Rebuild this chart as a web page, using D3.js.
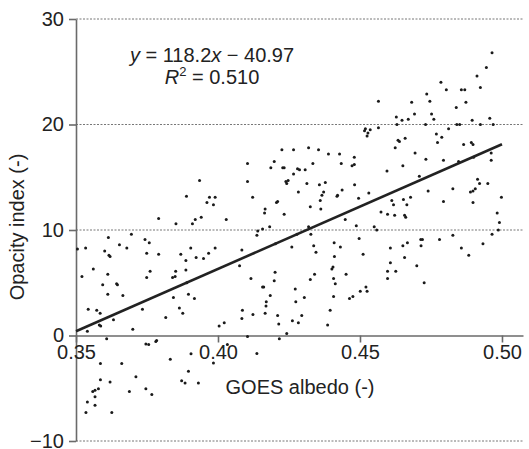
<!DOCTYPE html>
<html>
<head>
  <meta charset="utf-8">
  <script src="https://cdn.jsdelivr.net/npm/d3@7"></script>
  <style>
    body { margin: 0; background: #fff; }
    svg { font-family: "Liberation Sans", Arial, Helvetica, sans-serif; }
  </style>
</head>
<body>
<script>
  const width = 529;
  const height = 449;

  // GOES albedo (x) and opacity index (y)
  const albedo = [
    0.3505, 0.3534, 0.3521, 0.3561, 0.3543, 0.3540, 0.3573, 0.3585, 0.3587, 0.3582,
    0.3594, 0.3601, 0.3614, 0.3616, 0.3620, 0.3612, 0.3612, 0.3632, 0.3643, 0.3646,
    0.3653, 0.3665, 0.3679, 0.3695, 0.3700, 0.3734, 0.3743, 0.3749, 0.3758, 0.3749,
    0.3761, 0.3791, 0.3791, 0.3816, 0.3843,
    0.3608, 0.3746, 0.3756, 0.3784, 0.3781, 0.3586, 0.3661, 0.3832, 0.3905, 0.3896,
    0.3872, 0.3884, 0.3931, 0.3711, 0.3586, 0.3620, 0.3579, 0.3559, 0.3567, 0.3688,
    0.3746, 0.3767, 0.3567, 0.3540, 0.3567, 0.3535, 0.3626, 0.3984, 0.4033,
    0.3840, 0.3849, 0.3852, 0.3851, 0.3864, 0.3869, 0.3876, 0.3889, 0.3887, 0.3887,
    0.3890, 0.3896, 0.3904, 0.3910, 0.3920, 0.3917, 0.3923, 0.3935, 0.3941, 0.3949,
    0.3961, 0.3967, 0.3970, 0.3984, 0.3990, 0.3990, 0.4004, 0.4022, 0.4029,
    0.4076, 0.4084, 0.4086, 0.4084, 0.4104, 0.4104, 0.4104, 0.4116, 0.4122, 0.4123,
    0.4137, 0.4137, 0.4140, 0.4157, 0.4157, 0.4161, 0.4164, 0.4166, 0.4166, 0.4169,
    0.4170, 0.4182, 0.4184, 0.4186, 0.4198, 0.4198, 0.4201, 0.4202, 0.4206, 0.4210,
    0.4210, 0.4214, 0.4216, 0.4225, 0.4228, 0.4233, 0.4233, 0.4239, 0.4242, 0.4242,
    0.4247, 0.4260, 0.4262, 0.4266, 0.4266, 0.4272, 0.4274, 0.4278, 0.4280, 0.4283,
    0.4283, 0.4287,
    0.4295, 0.4304, 0.4307, 0.4313, 0.4319, 0.4319, 0.4325, 0.4327, 0.4325, 0.4334,
    0.4337, 0.4340, 0.4345, 0.4354, 0.4357, 0.4360, 0.4362, 0.4366, 0.4372, 0.4378,
    0.4386, 0.4389, 0.4395, 0.4401, 0.4405, 0.4407, 0.4409, 0.4410, 0.4413, 0.4407,
    0.4419, 0.4421, 0.4428, 0.4431, 0.4434, 0.4437, 0.4448, 0.4451, 0.4463, 0.4475,
    0.4472, 0.4480, 0.4480, 0.4481, 0.4487, 0.4495, 0.4497, 0.4501, 0.4511, 0.4516,
    0.4519, 0.4521, 0.4525, 0.4525,
    0.4528, 0.4536, 0.4531, 0.4550, 0.4559, 0.4565, 0.4565, 0.4574, 0.4595, 0.4597,
    0.4597, 0.4597, 0.4607, 0.4607, 0.4612, 0.4618, 0.4622, 0.4624, 0.4626, 0.4628,
    0.4630, 0.4634, 0.4639, 0.4648, 0.4651, 0.4651, 0.4653, 0.4657, 0.4657, 0.4659,
    0.4661, 0.4665, 0.4667, 0.4670, 0.4678, 0.4682, 0.4692, 0.4694, 0.4700, 0.4709,
    0.4714, 0.4715, 0.4720, 0.4726, 0.4731, 0.4735, 0.4732, 0.4740, 0.4746, 0.4752,
    0.4760,
    0.4769, 0.4773, 0.4780, 0.4785, 0.4788, 0.4794, 0.4794, 0.4804, 0.4812, 0.4827,
    0.4827, 0.4839, 0.4841, 0.4847, 0.4851, 0.4857, 0.4857, 0.4865, 0.4869, 0.4873,
    0.4883, 0.4889, 0.4892, 0.4895, 0.4898, 0.4898, 0.4898, 0.4900, 0.4906, 0.4912,
    0.4914, 0.4921, 0.4924, 0.4924, 0.4933, 0.4945, 0.4950, 0.4957, 0.4962, 0.4962,
    0.4965, 0.4965, 0.4969, 0.4983, 0.4987, 0.4991, 0.4998
  ];
  const opacity = [
    8.2, 8.3, 5.6, 6.3, 2.5, 0.4, 2.4, 2.1, 0.9, 1.0,
    4.8, 8.0, 9.3, 7.6, 7.5, 5.8, 3.9, 1.5, 4.9, 4.8,
    8.6, 3.8, 8.3, 9.6, 0.6, 2.5, 9.1, 7.8, 8.8, 5.5,
    6.1, 11.1, 7.7, 1.7, 3.6,
    -0.3, -0.8, -0.85, -0.47, -0.57, -2.65, -2.65, -2.24, -1.74, -3.4,
    -4.3, -4.5, -4.5, -3.9, -4.2, -4.4, -5.05, -5.3, -5.2, -5.3,
    -5.05, -5.6, -5.8, -6.3, -6.6, -7.3, -7.3, -2.6, -0.85,
    5.5, 5.6, 10.6, 6.1, 2.6, 7.7, 2.1, 13.2, 7.1, 6.2,
    5.0, 3.9, 8.3, 10.6, 11.0, 3.5, 7.4, 14.7, 11.2, 7.3,
    12.6, 7.8, 13.1, 12.4, 13.1, 8.3, 0.9, 1.2, 11.0,
    6.6, 8.1, 2.4, 1.6, 16.3, 14.6, -0.1, 5.4, 13.1, 2.0,
    -1.7, 9.5, 9.9, 10.1, 4.6, 4.6, 11.6, 12.0, 2.1, 2.8,
    3.2, 10.3, 3.8, 15.9, 16.5, 5.2, 6.0, 8.7, 12.6, 12.7,
    1.9, 1.1, -0.3, 17.6, 15.9, 15.9, 11.5, 14.6, 14.4, 0.2,
    14.7, 8.4, 1.4, 17.6, 15.3, 4.4, 3.2, 9.6, 15.8, 13.6,
    1.2, 15.7,
    1.9, 3.6, 15.7, 14.4, 17.8, 10.3, 12.2, 9.6, 5.3, 16.3,
    8.5, 5.8, 7.9, 17.6, 14.3, 12.8, 12.0, 13.3, 13.6, 14.5,
    1.0, 17.2, 2.4, 6.3, 6.5, 5.4, 8.8, 7.5, 4.9, 3.7,
    13.2, 13.3, 17.2, 8.4, 16.3, 13.8, 11.0, 5.8, 3.5, 3.7,
    16.1, 16.2, 16.9, 14.3, 10.4, 13.0, 9.2, 4.2, 7.7, 19.4,
    19.6, 4.6, 4.2, 18.9,
    19.2, 19.5, 13.5, 10.3, 10.0, 22.2, 19.7, 11.7, 15.6, 11.5,
    6.1, 5.4, 8.3, 6.9, 12.8, 12.4, 11.4, 17.8, 6.1, 20.7,
    20.0, 18.5, 18.4, 20.4, 16.1, 8.5, 12.9, 7.4, 11.4, 18.7,
    11.2, 12.4, 8.8, 20.5, 13.1, 22.1, 21.0, 17.3, 6.6, 15.1,
    9.1, 8.5, 9.1, 5.0, 20.0, 22.9, 16.7, 13.7, 22.2, 21.0,
    20.5,
    19.1, 18.3, 9.1, 24.0, 18.8, 16.6, 12.7, 23.3, 19.6, 13.9,
    9.5, 21.6, 20.0, 16.5, 20.0, 23.3, 8.3, 18.1, 23.3, 22.1,
    7.6, 13.6, 18.3, 20.4, 13.7, 18.1, 12.6, 16.9, 13.9, 24.6,
    14.8, 14.4, 20.0, 23.5, 8.7, 25.4, 14.4, 20.6, 17.3, 16.6,
    26.8, 9.6, 20.0, 11.6, 10.0, 10.7, 13.1
  ];

  const xTicks = [0.35, 0.40, 0.45, 0.50];
  const yTicks = [-10, 0, 10, 20, 30];
  const slope = 118.2;
  const intercept = -40.97;

  const svg = d3.select('body').append('svg')
    .attr('width', width)
    .attr('height', height);

  const x = d3.scaleLinear().domain([0.35, 0.5074]).range([76, 523]);
  const y = d3.scaleLinear().domain([-10, 30]).range([441, 19]);

  // dashed grid lines (the zero line is the x axis)
  svg.append('g').selectAll('line')
    .data(yTicks.filter(d => d !== 0))
    .join('line')
    .attr('x1', x.range()[0]).attr('x2', x.range()[1])
    .attr('y1', d => y(d)).attr('y2', d => y(d))
    .attr('stroke', '#777')
    .attr('stroke-width', 1)
    .attr('stroke-dasharray', '2,1.5');

  const fmtY = d => d < 0 ? '\u2212' + Math.abs(d) : String(d);

  const yAxis = svg.append('g')
    .attr('transform', `translate(${x(0.35)},0)`)
    .call(d3.axisLeft(y).tickValues(yTicks).tickSize(7).tickSizeOuter(0).tickFormat(fmtY));

  const xAxis = svg.append('g')
    .attr('transform', `translate(0,${y(0)})`)
    .call(d3.axisBottom(x).tickValues(xTicks).tickSize(7).tickSizeOuter(0).tickFormat(d3.format('.2f')));

  [yAxis, xAxis].forEach(a => {
    a.select('.domain').attr('stroke', '#6a6a6a').attr('stroke-width', 1.6);
    a.selectAll('.tick line').attr('stroke', '#6a6a6a').attr('stroke-width', 1.6);
    a.selectAll('.tick text').attr('fill', '#222').style('font-size', '20px');
  });
  yAxis.selectAll('.tick text').attr('x', -12);
  xAxis.selectAll('.tick text').attr('y', 9);

  // axis titles
  svg.append('text')
    .attr('x', x(0.35) + 224)
    .attr('y', 394)
    .attr('text-anchor', 'middle')
    .attr('fill', '#222')
    .style('font-size', '20px')
    .text('GOES albedo (-)');

  svg.append('text')
    .attr('transform', `translate(24,${(y(30) + y(-10)) / 2 - 3}) rotate(-90)`)
    .attr('text-anchor', 'middle')
    .attr('fill', '#222')
    .style('font-size', '20px')
    .text('Opacity index (-)');

  // points
  svg.append('g').selectAll('circle')
    .data(d3.zip(albedo, opacity))
    .join('circle')
    .attr('cx', d => x(d[0]))
    .attr('cy', d => y(d[1]))
    .attr('r', 1.5)
    .attr('fill', '#1a1a1a');

  // regression line
  const xr = [0.35, 0.50];
  svg.append('path')
    .datum(xr.map(v => [v, slope * v + intercept]))
    .attr('d', d3.line().x(d => x(d[0])).y(d => y(d[1])))
    .attr('stroke', '#222')
    .attr('stroke-width', 2.6)
    .attr('fill', 'none');

  // equation
  const eq = svg.append('text')
    .attr('x', 212).attr('y', 62)
    .attr('text-anchor', 'middle')
    .attr('fill', '#222')
    .style('font-size', '20px');
  eq.append('tspan').style('font-style', 'italic').text('y');
  eq.append('tspan').text(' = 118.2');
  eq.append('tspan').style('font-style', 'italic').text('x');
  eq.append('tspan').text(' \u2212 40.97');

  const r2 = svg.append('text')
    .attr('x', 212).attr('y', 84)
    .attr('text-anchor', 'middle')
    .attr('fill', '#222')
    .style('font-size', '20px');
  r2.append('tspan').style('font-style', 'italic').text('R');
  r2.append('tspan').attr('dy', -8).style('font-size', '13px').text('2');
  r2.append('tspan').attr('dy', 8).text(' = 0.510');
</script>
</body>
</html>
